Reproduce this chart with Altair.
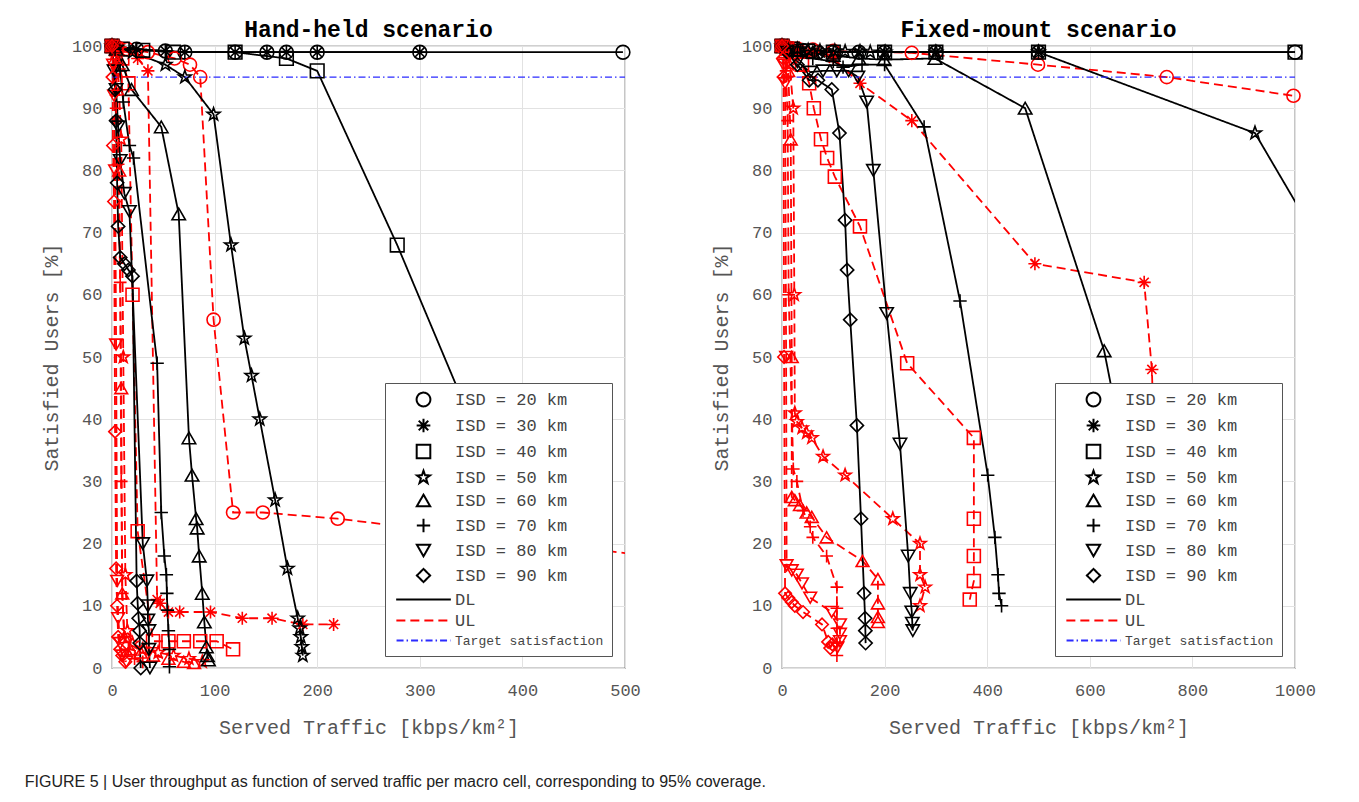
import altair as alt
import pandas as pd

ISD = [20, 30, 40, 50, 60, 70, 80, 90]

# ---------------- Hand-held scenario ----------------
HH_DL_X = {
    20: [0, 24, 52, 71, 120, 151, 170, 200, 300, 498],
    30: [0, 24, 52, 71, 120, 151, 170, 200, 300],
    40: [0, 10, 30, 60, 120, 170, 200, 278, 380],
    50: [0, 5, 20, 52, 71, 99, 116, 129, 136, 144, 159, 171, 181, 183, 184, 185, 186],
    60: [0, 4, 10, 19, 48, 65, 75, 78, 82, 83, 85, 88, 90, 92, 93, 94],
    70: [0, 3, 8, 11, 17, 21, 44, 48, 51, 53, 53.5, 54, 55, 56, 56],
    80: [0, 2, 4, 6, 8, 12, 17, 30, 34, 35, 35, 36, 36, 37],
    90: [0, 3, 4, 5, 6, 8, 12, 16, 20, 24, 25, 26, 27, 27, 28],
}
HH_DL_Y = {
    20: [100, 99.5, 99.2, 99, 99, 99, 99, 99, 99, 99],
    30: [100, 99.5, 99.2, 99, 99, 99, 99, 99, 99],
    40: [100, 99.5, 99.3, 99, 99, 98, 96, 68, 28],
    50: [100, 99.8, 99, 97, 95, 89, 68, 53, 47, 40, 27, 16, 8, 6.4, 5, 3.4, 2],
    60: [100, 99.5, 97, 93, 87, 73, 37, 31, 24, 22.5, 18, 12, 7.4, 3.4, 2, 1.3],
    70: [100, 99.5, 96, 91, 84, 82, 49, 25, 18, 15, 12, 9.3, 6, 3, 0.2],
    80: [100, 96, 93, 87, 81.6, 76.3, 73.4, 20, 14, 10, 7.7, 6, 3, 0],
    90: [100, 93, 88, 78, 71, 66, 65, 64, 63, 14, 10.4, 8, 6, 4, 0],
}
HH_UL_X = {
    20: [0, 5, 15, 35, 61, 76, 86, 99, 118, 147, 220, 560],
    30: [0, 8, 25, 35, 44, 47, 55, 66, 96, 127, 156, 186, 216],
    40: [0, 4, 10, 16, 20, 25, 40, 55, 70, 86, 102, 118],
    50: [0, 3, 6, 9, 11, 13, 15, 20, 30, 45, 60, 75, 88],
    60: [0, 3, 5, 7, 9, 10, 12, 18, 28, 40, 55, 70, 80],
    70: [0, 2, 4, 6, 8, 9, 10, 12, 16, 22, 30],
    80: [0, 1, 2, 3, 4, 5, 6, 8, 10, 14],
    90: [0, 0.5, 1, 2, 3, 4, 5, 6, 8, 10, 13],
}
HH_UL_Y = {
    20: [100, 99.8, 99.5, 99, 98, 97, 95, 56, 25, 25, 24, 17.3],
    30: [100, 99.8, 98, 96, 11, 10.4, 9, 9, 9, 8, 8, 7, 7],
    40: [100, 99.5, 98, 94, 60, 22, 4.3, 4.3, 4.3, 4.3, 4.3, 3],
    50: [100, 99, 96, 85, 50, 15, 6, 4, 3, 2.5, 2, 1.5, 1],
    60: [100, 98, 93, 80, 45, 12, 5, 3, 2.5, 2, 1.5, 1, 0.8],
    70: [100, 97, 90, 81, 62, 30, 12, 5, 3, 1.5, 1],
    80: [100, 97, 92, 80, 52, 14, 8, 4, 2, 1],
    90: [100, 95, 84, 75, 38, 16, 10, 5, 3, 2, 1],
}

# ---------------- Fixed-mount scenario ----------------
FM_DL_X = {
    20: [0, 15, 40, 70, 100, 150, 200, 300, 500, 1000],
    30: [0, 15, 40, 70, 100, 150, 200, 300, 500],
    40: [0, 20, 50, 100, 200, 300, 500, 1000],
    50: [0, 10, 30, 51, 74, 103, 123, 152, 172, 201, 300, 500, 922, 1050],
    60: [0, 10, 30, 60, 100, 150, 199, 298, 474, 628, 690],
    70: [0, 10, 30, 60, 100, 119, 156, 200, 277, 347, 401, 415, 421, 423, 428],
    80: [0, 10, 30, 55, 80, 107, 130, 148, 165, 178, 204, 230, 246, 250, 253, 254, 255],
    90: [0, 10, 30, 53, 70, 97, 112, 123, 127, 133, 146, 154, 160, 162, 162.5, 163],
}
FM_DL_Y = {
    20: [100, 99.6, 99.3, 99, 99, 99, 99, 99, 99, 99],
    30: [100, 99.6, 99.3, 99, 99, 99, 99, 99, 99],
    40: [100, 99.5, 99.2, 99, 99, 99, 99, 99],
    50: [100, 99.8, 99.5, 99.3, 99.2, 99.2, 99.1, 99.1, 99, 99, 99, 99, 86, 68],
    60: [100, 99.7, 99.3, 99, 98.5, 98, 97.8, 98, 90, 51, 25],
    70: [100, 99.6, 99, 98, 97.5, 96.6, 97, 97, 87, 59, 31, 21, 15, 12, 10],
    80: [100, 99, 97.5, 95.8, 96, 96, 96, 95, 91, 80, 57, 36, 18, 12, 9, 7.2, 6],
    90: [100, 99, 97, 94.5, 94.5, 93, 86, 72, 64, 56, 39, 24, 12, 8, 6, 4],
}
FM_UL_X = {
    20: [0, 10, 30, 60, 100, 253, 499, 750, 997],
    30: [0, 10, 30, 60, 100, 152, 253, 493, 706, 721, 728],
    40: [0, 10, 20, 39, 53, 62, 76, 88, 103, 152, 244, 374, 374, 374, 374, 366],
    50: [0, 8, 15, 22, 24, 25, 29, 39, 48, 58, 80, 123, 216, 269, 269, 279, 269],
    60: [0, 6, 12, 17, 19, 19, 25, 35, 48, 58, 87, 157, 187, 187, 187, 187],
    70: [0, 4, 8, 11, 13, 22, 29, 41, 55, 60, 87, 107, 107, 107, 107, 107],
    80: [0, 3, 6, 8, 9, 19, 29, 39, 55, 97, 113, 113, 113, 108],
    90: [0, 2, 3, 4, 6, 12, 19, 25, 41, 78, 90, 94, 98],
}
FM_UL_Y = {
    20: [100, 99.8, 99.6, 99.4, 99.2, 98.9, 97, 95, 92],
    30: [100, 99.8, 99.5, 99, 98, 94, 88, 65, 62, 48, 30],
    40: [100, 99.6, 99, 97, 94, 90, 85, 82, 79, 71, 49, 37, 24, 18, 14, 11],
    50: [100, 99.5, 97, 90, 60, 41, 39.6, 38.6, 37.8, 37, 34, 31, 24, 20, 15, 13, 10],
    60: [100, 99, 96, 85, 50, 27.5, 27, 26.2, 25, 24.3, 21, 17.2, 14.3, 10.4, 8.2, 7.4],
    70: [100, 99, 96, 88, 60, 32, 30, 25.3, 22.7, 21, 18, 13, 9.6, 6.4, 4, 2],
    80: [100, 97, 94, 50, 16.5, 15.7, 15, 13.6, 11.3, 9, 7, 5.5, 4.3, 3.3],
    90: [100, 98, 95, 50, 12, 11.3, 10.6, 10, 9, 7, 4.2, 3.2, 3.8],
}

TARGET = 95
HH_X_TICKS = [0, 100, 200, 300, 400, 500]
FM_X_TICKS = [0, 200, 400, 600, 800, 1000]
Y_TICKS = list(range(0, 101, 10))

# ---------------- styling scales ----------------
ASTERISK = "M-1,0L1,0M0,-1L0,1M-0.7,-0.7L0.7,0.7M-0.7,0.7L0.7,-0.7"
PLUS = "M-1,0L1,0M0,-1L0,1"
STAR = ("M0,-1L0.235,-0.324L0.951,-0.309L0.380,0.124L0.588,0.809L0,0.4"
        "L-0.588,0.809L-0.380,0.124L-0.951,-0.309L-0.235,-0.324Z")
LEG_LINE = "M-4.4,0L4.4,0"
SHAPES = ["circle", ASTERISK, "square", STAR, "triangle-up", PLUS, "triangle-down", "diamond"]
SIZES = [190, 150, 115, 210, 180, 170, 180, 200]

DL_KEYS = [f"ISD = {d} km" for d in ISD]
UL_KEYS = [f"UL ISD = {d} km" for d in ISD]
LINE_KEYS = ["DL", "UL", "Target satisfaction"]
DOMAIN = DL_KEYS + UL_KEYS + LINE_KEYS
COLORS = ["black"] * 8 + ["red"] * 8 + ["black", "red", "#2b2bff"]
SHAPE_RANGE = SHAPES + SHAPES + [LEG_LINE] * 3
SIZE_RANGE = SIZES + SIZES + [190] * 3
DASHES = [[1, 0]] * 16 + [[1, 0], [9, 5], [7, 3, 1.5, 3]]


def make_legend():
    return alt.Legend(
        orient="none", legendX=273, legendY=337, values=DL_KEYS + LINE_KEYS,
        title=None, fillColor="white", strokeColor="#555", padding=8,
        labelFont="Liberation Mono", labelColor="#444",
        labelFontSize=alt.ExprRef("datum.label == 'Target satisfaction' ? 13 : 17"),
        symbolStrokeWidth=2, symbolOffset=22, labelOffset=23, rowPadding=3,
        symbolFillColor="transparent",
    )


def panel(title, dl_x, dl_y, ul_x, ul_y, xmax, xticks):
    lines, pts = [], []
    for i, d in enumerate(ISD):
        for link, xs, ys, pkey in (("DL", dl_x[d], dl_y[d], DL_KEYS[i]),
                                   ("UL", ul_x[d], ul_y[d], UL_KEYS[i])):
            for j, (xv, yv) in enumerate(zip(xs, ys)):
                lines.append(dict(x=xv, y=yv, key=link, series=f"{link}{d}", order=j))
                if xv <= xmax:
                    pts.append(dict(x=xv, y=yv, key=pkey, series=f"{link}{d}", order=j))
    target = pd.DataFrame({"x": [0, xmax], "y": [TARGET, TARGET],
                           "key": ["Target satisfaction"] * 2, "series": ["T", "T"], "order": [0, 1]})
    lines = pd.DataFrame(lines)
    pts = pd.DataFrame(pts)

    x = alt.X("x:Q", scale=alt.Scale(domain=[0, xmax], nice=False),
              axis=alt.Axis(values=xticks, format="d", title="Served Traffic [kbps/km²]",
                            titlePadding=19, labelPadding=14, labelFlush=False))
    y = alt.Y("y:Q", scale=alt.Scale(domain=[0, 100], nice=False),
              axis=alt.Axis(values=Y_TICKS, title="Satisfied Users [%]", titlePadding=10,
                            labelPadding=10, labelFlush=False))
    color = alt.Color("key:N", scale=alt.Scale(domain=DOMAIN, range=COLORS), legend=make_legend())
    dash = alt.StrokeDash("key:N", scale=alt.Scale(domain=DOMAIN, range=DASHES), legend=make_legend())
    shape = alt.Shape("key:N", scale=alt.Scale(domain=DOMAIN, range=SHAPE_RANGE), legend=make_legend())
    size = alt.Size("key:N", scale=alt.Scale(domain=DOMAIN, range=SIZE_RANGE), legend=make_legend())

    line_layer = alt.Chart(lines).mark_line(clip=True, strokeWidth=1.8).encode(
        x=x, y=y, color=color, strokeDash=dash, detail="series:N", order="order:Q")
    target_layer = alt.Chart(target).mark_line(clip=True, strokeWidth=1.2).encode(
        x=x, y=y, color=color, strokeDash=dash, detail="series:N", order="order:Q")
    point_layer = alt.Chart(pts).mark_point(filled=False, strokeWidth=1.6, opacity=1).encode(
        x=x, y=y, color=color, shape=shape, size=size)

    return alt.layer(line_layer, target_layer, point_layer).properties(
        width=513, height=622,
        title=alt.TitleParams(title, font="Liberation Mono", fontSize=23, fontWeight="bold",
                              color="black", offset=-6),
    )


left = panel("Hand-held scenario", HH_DL_X, HH_DL_Y, HH_UL_X, HH_UL_Y, 500, HH_X_TICKS)
right = panel("Fixed-mount scenario", FM_DL_X, FM_DL_Y, FM_UL_X, FM_UL_Y, 1000, FM_X_TICKS)

chart = alt.hconcat(left, right, spacing=69).resolve_scale(
    x="independent", y="independent", color="independent", shape="independent",
    strokeDash="independent", size="independent",
).resolve_legend(
    color="independent", shape="independent", strokeDash="independent", size="independent",
).properties(
    title=alt.TitleParams(
        "FIGURE 5 | User throughput as function of served traffic per macro cell, corresponding to 95% coverage.",
        orient="bottom", anchor="start", font="Liberation Sans", fontSize=16,
        fontWeight="normal", color="#222", offset=36, dx=-16),
    padding={"left": 16, "top": 10, "right": 5, "bottom": 5},
).configure_axis(
    labelFont="Liberation Mono", labelFontSize=17, labelColor="#555",
    titleFont="Liberation Mono", titleFontSize=20, titleColor="#555", titleFontWeight="normal",
    gridColor="#e2e2e2", domain=False, ticks=False,
).configure_view(stroke="#444", strokeWidth=1.2)

chart.save("out.html", embed_options={"renderer": "svg", "actions": False})
